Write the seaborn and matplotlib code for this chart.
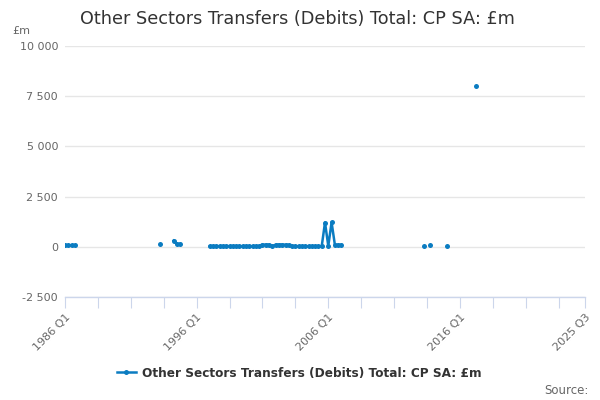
import numpy as np
import pandas as pd
import matplotlib
matplotlib.use("Agg")
import matplotlib.pyplot as plt
from matplotlib.lines import Line2D
import seaborn as sns

# ---- data -------------------------------------------------------------
title = "Other Sectors Transfers (Debits) Total: CP SA: £m"
series_name = "Other Sectors Transfers (Debits) Total: CP SA: £m"
first_year, last_year, last_q = 1986, 2025, 3

obs_periods = (
    ["1986 Q1", "1986 Q2", "1986 Q3", "1986 Q4",
     "1993 Q2", "1994 Q2", "1994 Q3", "1994 Q4"]
    + [f"{y} Q{q}" for y in range(1997, 2008) for q in range(1, 5)][:41]
    + ["2013 Q2", "2013 Q4", "2015 Q1", "2017 Q2"]
)
early_values = [100, 100, 100, 100, 115, 310, 120, 150]
dense_values = [25, 20, 20, 25, 20, 20, 25, 20, 20, 20, 25, 20, 20, 25, 20, 25,
                110, 110, 105, 40, 105, 110, 110, 105, 90,
                30, 25, 25, 20, 25, 25, 20, 25, 25, 25,
                1210, 40, 1220, 100, 100, 95]
late_values = [35, 65, 15, 8000]
obs_values = early_values + dense_values + late_values

y_ticks = [-2500, 0, 2500, 5000, 7500, 10000]
y_tick_labels = ["-2 500", "0", "2 500", "5 000", "7 500", "10 000"]
x_label_periods = ["1986 Q1", "1996 Q1", "2006 Q1", "2016 Q1", "2025 Q3"]

# ---- build frame ------------------------------------------------------
quarters = [f"{y} Q{q}" for y in range(first_year, last_year + 1) for q in range(1, 5)]
quarters = quarters[: quarters.index(f"{last_year} Q{last_q}") + 1]
pos = {p: i for i, p in enumerate(quarters)}
full = pd.Series(np.nan, index=range(len(quarters)))
for p, v in zip(obs_periods, obs_values):
    full[pos[p]] = v
df = pd.DataFrame({"idx": full.index, "val": full.values})
df["seg"] = df["val"].isna().cumsum()
df = df.dropna()

color = "#0b7cc1"
plt.rcParams["font.family"] = ["DejaVu Sans"]

fig = plt.figure(figsize=(6, 4), dpi=100)
ax = fig.add_axes([65 / 600, 1 - 297 / 400, 520 / 600, 251 / 400])

sns.lineplot(data=df, x="idx", y="val", units="seg", estimator=None,
             color=color, linewidth=1.8, marker="o", markersize=3.6,
             markeredgewidth=0, ax=ax, legend=False)

n = len(quarters) - 1
ax.set_xlim(0, n)
ax.set_ylim(-2500, 10000)
ax.set_yticks(y_ticks)
ax.set_yticklabels(y_tick_labels)
tick_pos = list(range(0, n, 10)) + [n]
ax.set_xticks(tick_pos)
ax.set_xticklabels([quarters[t] if quarters[t] in x_label_periods else "" for t in tick_pos],
                   rotation=45, ha="right", rotation_mode="anchor")
ax.set_xlabel("")
ax.set_ylabel("")
ax.grid(axis="y", color="#e6e6e6", linewidth=1)
ax.grid(axis="x", visible=False)
ax.set_axisbelow(True)
for s in ["top", "right", "left"]:
    ax.spines[s].set_visible(False)
ax.spines["bottom"].set_color("#ccd6eb")
ax.spines["bottom"].set_linewidth(1)
ax.tick_params(axis="x", length=8, color="#ccd6eb", labelsize=8, labelcolor="#666666", pad=3)
ax.tick_params(axis="y", length=0, labelsize=8, labelcolor="#666666", pad=5)
ax.set_facecolor("white")

fig.text(297 / 600, 1 - 19 / 400, title, ha="center", va="center", fontsize=12.7, color="#333333")
fig.text(12 / 600, 1 - 31 / 400, "£m", ha="left", va="center", fontsize=8, color="#666666")

handle = Line2D([0], [0], color=color, linewidth=1.8, marker="o", markersize=3.6, markeredgewidth=0)
fig.legend([handle], [series_name], loc="center", bbox_to_anchor=(299 / 600, 1 - 373 / 400),
           frameon=False, prop={"weight": "bold", "size": 8.7}, handlelength=1.6, handletextpad=0.5,
           labelcolor="#333333")
fig.text(589 / 600, 1 - 391 / 400, "Source:", ha="right", va="center", fontsize=8.5, color="#666666")

fig.savefig("out.png", dpi=100)
